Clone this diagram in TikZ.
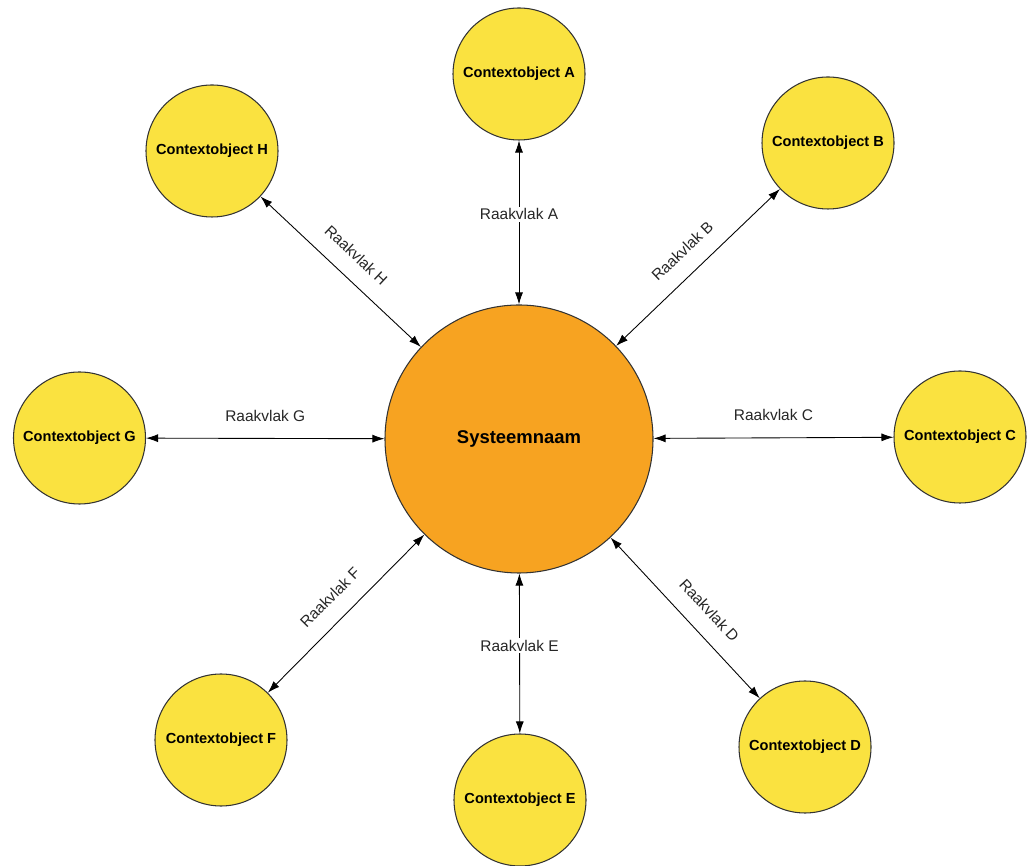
\documentclass[tikz,border=0pt]{standalone}
\usepackage{fontspec}
\setmainfont{Liberation Sans}
\definecolor{sysorange}{RGB}{247, 163, 33}
\definecolor{ctxyellow}{RGB}{250, 226, 64}
\usetikzlibrary{arrows.meta, positioning}

\begin{document}
\begin{tikzpicture}[
    sysnode/.style={circle, draw=black!80, line width=0.6pt, fill=sysorange, minimum size=5.36cm, inner sep=0pt, font=\fontsize{10.5}{12}\selectfont\bfseries},
    ctxnode/.style={circle, draw=black!80, line width=0.6pt, fill=ctxyellow, minimum size=2.64cm, inner sep=0pt, font=\fontsize{8.3}{10}\selectfont\bfseries},
    iface/.style={{Latex[length=2.4mm, width=1.6mm]}-{Latex[length=2.4mm, width=1.6mm]}, line width=0.5pt},
    ifacelabel/.style={font=\fontsize{8.8}{10}\selectfont, text=black!85, inner sep=1pt}
  ]
  \useasboundingbox (0,0) rectangle (20.58,17.32);

  % --- System in the middle ---
  \node[sysnode] (sys) at (10.38, 8.54) {Systeemnaam};

  % --- Context objects around it ---
  \node[ctxnode] (a) at (10.38, 15.84) {Contextobject A};
  \node[ctxnode] (b) at (16.56, 14.46) {Contextobject B};
  \node[ctxnode] (c) at (19.20, 8.58) {Contextobject C};
  \node[ctxnode] (d) at (16.10, 2.38) {Contextobject D};
  \node[ctxnode] (e) at (10.40, 1.32) {Contextobject E};
  \node[ctxnode] (f) at (4.42, 2.52) {Contextobject F};
  \node[ctxnode] (g) at (1.59, 8.56) {Contextobject G};
  \node[ctxnode] (h) at (4.24, 14.30) {Contextobject H};

  % --- Interfaces ---
  \draw[iface] (sys) -- node[ifacelabel, fill=white, pos=0.55] {Raakvlak A} (a);
  \draw[iface] (sys) -- node[ifacelabel, sloped, above=0.3cm] {Raakvlak B} (b);
  \draw[iface] (sys) -- node[ifacelabel, above=0.3cm] {Raakvlak C} (c);
  \draw[iface] (sys) -- node[ifacelabel, sloped, above=0.3cm, pos=0.55] {Raakvlak D} (d);
  \draw[iface] (sys) -- node[ifacelabel, fill=white, pos=0.45] {Raakvlak E} (e);
  \draw[iface] (f) -- node[ifacelabel, sloped, above=0.3cm] {Raakvlak F} (sys);
  \draw[iface] (g) -- node[ifacelabel, above=0.3cm] {Raakvlak G} (sys);
  \draw[iface] (h) -- node[ifacelabel, sloped, above=0.3cm] {Raakvlak H} (sys);
\end{tikzpicture}
\end{document}
